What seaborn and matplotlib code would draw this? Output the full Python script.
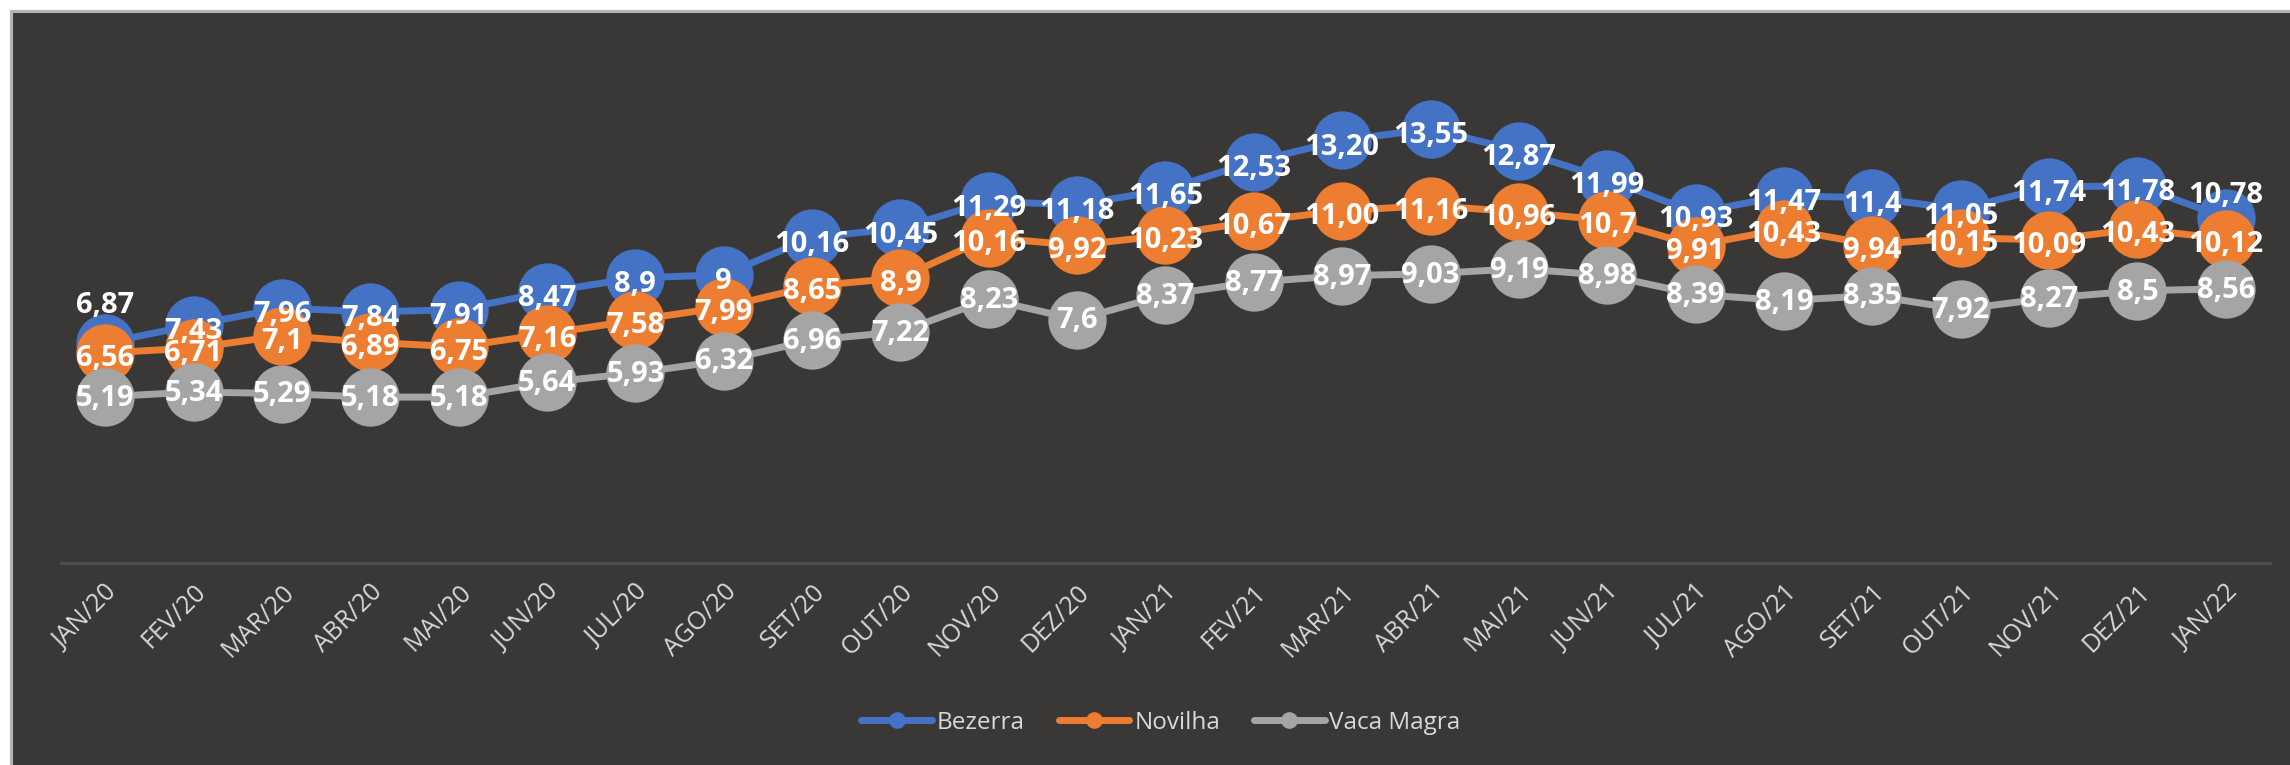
import matplotlib
matplotlib.use("Agg")
import matplotlib.pyplot as plt
from matplotlib.lines import Line2D
from matplotlib.patches import Rectangle
import seaborn as sns
import pandas as pd

# Dados (R$/kg), rotulos no formato brasileiro
meses = ["JAN/20", "FEV/20", "MAR/20", "ABR/20", "MAI/20", "JUN/20", "JUL/20",
         "AGO/20", "SET/20", "OUT/20", "NOV/20", "DEZ/20", "JAN/21", "FEV/21",
         "MAR/21", "ABR/21", "MAI/21", "JUN/21", "JUL/21", "AGO/21", "SET/21",
         "OUT/21", "NOV/21", "DEZ/21", "JAN/22"]
bezerra = ["6,87", "7,43", "7,96", "7,84", "7,91", "8,47", "8,9", "9", "10,16",
           "10,45", "11,29", "11,18", "11,65", "12,53", "13,20", "13,55", "12,87",
           "11,99", "10,93", "11,47", "11,4", "11,05", "11,74", "11,78", "10,78"]
novilha = ["6,56", "6,71", "7,1", "6,89", "6,75", "7,16", "7,58", "7,99", "8,65",
           "8,9", "10,16", "9,92", "10,23", "10,67", "11,00", "11,16", "10,96",
           "10,7", "9,91", "10,43", "9,94", "10,15", "10,09", "10,43", "10,12"]
vaca_magra = ["5,19", "5,34", "5,29", "5,18", "5,18", "5,64", "5,93", "6,32", "6,96",
              "7,22", "8,23", "7,6", "8,37", "8,77", "8,97", "9,03", "9,19", "8,98",
              "8,39", "8,19", "8,35", "7,92", "8,27", "8,5", "8,56"]

series = {"Bezerra": bezerra, "Novilha": novilha, "Vaca Magra": vaca_magra}
cores = {"Bezerra": "#4472C4", "Novilha": "#ED7D31", "Vaca Magra": "#A5A5A5"}

BG = "#393836"
TXT = "#d9d9d9"

# tabela longa para o seaborn
linhas = []
for nome, vals in series.items():
    for i, v in enumerate(vals):
        linhas.append({"pos": i, "valor": float(v.replace(",", ".")), "rotulo": v, "serie": nome})
df = pd.DataFrame(linhas)

sns.set_style("white")
plt.rcParams["font.family"] = ["Open Sans", "DejaVu Sans"]

fig = plt.figure(figsize=(22.9, 7.65), dpi=100, facecolor="white")
# fundo escuro com borda cinza (estilo grafico do Excel)
fig.patches.append(Rectangle((11 / 2290, -0.05), 1.0, (765 - 11) / 765 + 0.05,
                             transform=fig.transFigure, facecolor=BG,
                             edgecolor="#b4b4b4", linewidth=2.2, zorder=-10))

ax = fig.add_axes([0.02664, 0.264, 0.9646, 0.670])
ax.set_facecolor("none")

sns.lineplot(data=df, x="pos", y="valor", hue="serie", palette=cores,
             marker="o", markersize=42, markeredgewidth=0, linewidth=5,
             sort=False, legend=False, ax=ax)

# rotulos de dados (deslocamento vertical em pontos)
desloc = {"Bezerra": -5, "Novilha": -4, "Vaca Magra": -1}
ajuste = {("Bezerra", 0): 27, ("Bezerra", 24): 16}
for _, r in df.iterrows():
    dy = ajuste.get((r["serie"], r["pos"]), desloc[r["serie"]])
    ax.annotate(r["rotulo"], (r["pos"], r["valor"]), xytext=(0, dy),
                textcoords="offset points", ha="center", va="center",
                color="white", fontsize=21, fontweight="bold", zorder=10)

ax.set_xlim(-0.5, 24.5)
ax.set_ylim(0, 16)
ax.set_xticks(range(len(meses)))
ax.set_xticklabels(meses, rotation=45, ha="right", rotation_mode="anchor",
                   color=TXT, fontsize=18)
ax.set_xticks([i - 0.5 for i in range(len(meses) + 1)], minor=True)
ax.tick_params(axis="x", which="major", length=0, pad=12)
ax.tick_params(axis="x", which="minor", length=5, color="#555555", width=1.5)
ax.set_yticks([])
ax.set_xlabel("")
ax.set_ylabel("")
for lado in ["top", "right", "left"]:
    ax.spines[lado].set_visible(False)
ax.spines["bottom"].set_color("#4f4f4f")
ax.spines["bottom"].set_linewidth(2)

handles = [Line2D([0], [0], color=cores[n], lw=5, marker="o", markersize=11) for n in series]
fig.legend(handles, list(series), loc="center", bbox_to_anchor=(0.507, 0.055),
           ncol=3, frameon=False, fontsize=17.5, labelcolor=TXT,
           handlelength=2.9, handletextpad=0.2, columnspacing=1.4)

plt.savefig("out.png", dpi=100, facecolor=fig.get_facecolor())
